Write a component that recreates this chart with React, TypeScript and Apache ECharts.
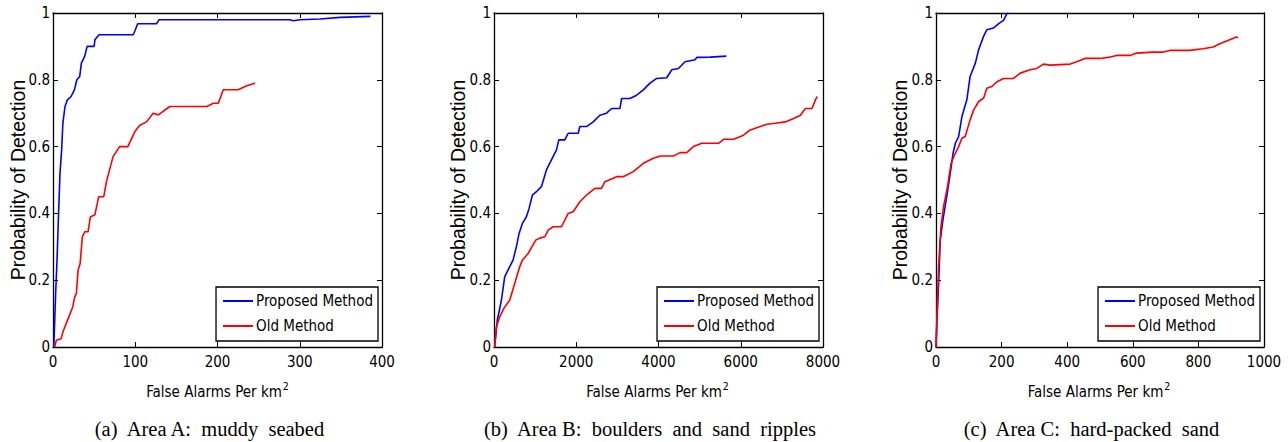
import React, { useEffect, useRef } from "react";
import * as echarts from "echarts";

// ---------- Data ----------
// Panel (a) Area A: muddy seabed
const aPropX = [1, 3.2, 4.9, 6.5, 8.5, 10.5, 12, 14.6, 17.5, 22, 26, 29, 32.5, 34.5, 38.5, 41.5, 50, 51, 56, 97.5, 99.5, 103, 126, 129, 288, 292, 300, 325, 349, 386];
const aPropY = [0, 0.16, 0.26, 0.38, 0.52, 0.59, 0.67, 0.72, 0.74, 0.75, 0.77, 0.8, 0.81, 0.85, 0.87, 0.9, 0.9, 0.92, 0.935, 0.935, 0.946, 0.968, 0.968, 0.98, 0.98, 0.977, 0.98, 0.982, 0.987, 0.99];
const aOldX = [2, 4, 10, 12, 16, 24, 26.4, 28.4, 30.5, 33, 35.7, 38.6, 42.6, 45.5, 50.8, 55.6, 61.7, 65, 73, 81, 91, 99.5, 105.6, 113.7, 121.8, 128, 142, 187, 195, 201, 207, 225, 235.6, 245.7];
const aOldY = [0, 0.02, 0.025, 0.045, 0.07, 0.12, 0.15, 0.16, 0.23, 0.25, 0.33, 0.345, 0.345, 0.39, 0.395, 0.45, 0.45, 0.495, 0.57, 0.6, 0.6, 0.645, 0.664, 0.674, 0.7, 0.695, 0.72, 0.72, 0.73, 0.73, 0.77, 0.77, 0.782, 0.79];

// Panel (b) Area B: boulders and sand ripples
const bPropX = [16, 80, 180, 260, 340, 463, 544, 610, 690, 788, 853, 934, 1032, 1153, 1275, 1397, 1519, 1576, 1722, 1803, 2047, 2088, 2250, 2413, 2575, 2737, 2859, 3062, 3103, 3306, 3468, 3631, 3793, 3956, 4200, 4322, 4484, 4646, 4890, 4931, 5256, 5650];
const bPropY = [0, 0.08, 0.14, 0.21, 0.23, 0.26, 0.3, 0.34, 0.37, 0.39, 0.415, 0.455, 0.465, 0.48, 0.53, 0.56, 0.59, 0.62, 0.62, 0.64, 0.64, 0.66, 0.66, 0.674, 0.694, 0.7, 0.714, 0.714, 0.744, 0.744, 0.754, 0.77, 0.79, 0.804, 0.806, 0.83, 0.834, 0.854, 0.86, 0.867, 0.868, 0.871];
const bOldX = [16, 57, 138, 260, 382, 503, 625, 690, 829, 1015, 1113, 1235, 1316, 1438, 1641, 1803, 1925, 2088, 2250, 2453, 2615, 2697, 2900, 2981, 3143, 3387, 3631, 3875, 4037, 4362, 4525, 4687, 4850, 5053, 5459, 5581, 5824, 6068, 6231, 6475, 6637, 6840, 7084, 7287, 7450, 7571, 7734, 7815, 7860];
const bOldY = [0, 0.06, 0.09, 0.12, 0.14, 0.19, 0.24, 0.26, 0.28, 0.32, 0.326, 0.33, 0.35, 0.36, 0.36, 0.4, 0.405, 0.435, 0.455, 0.475, 0.475, 0.495, 0.505, 0.51, 0.51, 0.525, 0.55, 0.565, 0.572, 0.572, 0.582, 0.582, 0.6, 0.61, 0.61, 0.622, 0.622, 0.634, 0.65, 0.66, 0.667, 0.67, 0.674, 0.684, 0.694, 0.714, 0.714, 0.74, 0.75];

// Panel (c) Area C: hard-packed sand
const cPropX = [0, 3, 8, 13, 21, 31, 42, 52, 59, 69, 79, 94, 104, 120, 130, 145, 155, 175, 191, 206, 216, 221];
const cPropY = [0, 0.08, 0.19, 0.32, 0.38, 0.44, 0.51, 0.58, 0.61, 0.63, 0.69, 0.74, 0.81, 0.85, 0.89, 0.93, 0.95, 0.955, 0.968, 0.978, 0.998, 1.0];
const cOldX = [0, 3, 8, 15, 23, 35, 46, 59, 69, 79, 89, 104, 115, 130, 145, 155, 170, 186, 206, 236, 257, 287, 307, 328, 348, 409, 429, 454, 500, 530, 551, 591, 612, 662, 693, 713, 774, 814, 845, 865, 890, 916, 921];
const cOldY = [0, 0.1, 0.24, 0.36, 0.42, 0.48, 0.55, 0.58, 0.6, 0.625, 0.63, 0.68, 0.71, 0.735, 0.745, 0.775, 0.78, 0.794, 0.804, 0.804, 0.82, 0.83, 0.834, 0.847, 0.844, 0.847, 0.854, 0.864, 0.864, 0.868, 0.873, 0.873, 0.88, 0.883, 0.883, 0.888, 0.888, 0.893, 0.898, 0.908, 0.918, 0.928, 0.926];

const xMaxes = [400, 8000, 1000];
const xIntervals = [100, 2000, 200];
const yTicks = [0, 0.2, 0.4, 0.6, 0.8, 1];
const seriesNames = ["Proposed Method", "Old Method"];
const captions = [
  "(a)  Area A:  muddy  seabed",
  "(b)  Area B:  boulders  and  sand  ripples",
  "(c)  Area C:  hard-packed  sand",
];
const xName = "False Alarms Per km";
const yName = "Probability of Detection";

const panels = [
  { prop: [aPropX, aPropY], old: [aOldX, aOldY] },
  { prop: [bPropX, bPropY], old: [bOldX, bOldY] },
  { prop: [cPropX, cPropY], old: [cOldX, cOldY] },
];

// ---------- Layout ----------
const grids = [
  { left: 53, top: 13, width: 329, height: 334 },
  { left: 494, top: 13, width: 329, height: 334 },
  { left: 936, top: 13, width: 328, height: 334 },
];
const yNameX = [17.5, 458, 899.5];
const xNameX = [217.5, 657.5, 1099];
const captionX = [209.5, 650, 1091.5];

const NARROW = "'Liberation Sans Narrow', 'Arial Narrow', 'DejaVu Sans Condensed', 'Liberation Sans', sans-serif";
const SERIF = "'Liberation Serif', 'Times New Roman', serif";

const zip = (xs: number[], ys: number[]) => xs.map((x, i) => [x, ys[i]]);

export default function App() {
  const ref = useRef<HTMLDivElement>(null);
  useEffect(() => {
    if (!ref.current) return;
    const chart = echarts.init(ref.current, undefined, { renderer: "svg" });

    const xAxis: any[] = [];
    const yAxis: any[] = [];
    const series: any[] = [];
    const legend: any[] = [];
    const graphic: any[] = [];

    grids.forEach((g, i) => {
      const tick = { show: true, inside: true, length: 5, lineStyle: { color: "#000", width: 1 } };
      xAxis.push({
        type: "value", gridIndex: i, min: 0, max: xMaxes[i], interval: xIntervals[i], position: "bottom",
        axisLine: { show: true, onZero: false, lineStyle: { color: "#000", width: 1.3 } },
        axisTick: tick, splitLine: { show: false },
        axisLabel: { color: "#000", fontFamily: NARROW, fontSize: 15, margin: 7, formatter: (v: number) => String(v) },
      });
      xAxis.push({
        type: "value", gridIndex: i, min: 0, max: xMaxes[i], interval: xIntervals[i], position: "top",
        axisLine: { show: true, onZero: false, lineStyle: { color: "#000", width: 1.3 } },
        axisTick: tick, splitLine: { show: false }, axisLabel: { show: false },
      });
      yAxis.push({
        type: "value", gridIndex: i, min: 0, max: 1, interval: 0.2, position: "left",
        axisLine: { show: true, onZero: false, lineStyle: { color: "#000", width: 1.3 } },
        axisTick: tick, splitLine: { show: false },
        axisLabel: {
          color: "#000", fontFamily: NARROW, fontSize: 15, margin: 3,
          formatter: (v: number) => String(yTicks.reduce((a, b) => (Math.abs(b - v) < Math.abs(a - v) ? b : a))),
        },
      });
      yAxis.push({
        type: "value", gridIndex: i, min: 0, max: 1, interval: 0.2, position: "right",
        axisLine: { show: true, onZero: false, lineStyle: { color: "#000", width: 1.3 } },
        axisTick: tick, splitLine: { show: false }, axisLabel: { show: false },
      });

      const p = panels[i];
      series.push({
        name: seriesNames[0], type: "line", xAxisIndex: 2 * i, yAxisIndex: 2 * i,
        data: zip(p.prop[0], p.prop[1]), symbol: "none", color: "#0000ff",
        lineStyle: { color: "#0000ff", width: 1.6 }, clip: true,
      });
      series.push({
        name: seriesNames[1], type: "line", xAxisIndex: 2 * i, yAxisIndex: 2 * i,
        data: zip(p.old[0], p.old[1]), symbol: "none", color: "#ff0000",
        lineStyle: { color: "#ff0000", width: 1.6 }, clip: true,
      });

      legend.push({
        data: seriesNames, orient: "vertical", right: 1288 - (g.left + g.width) + 4, top: 287,
        padding: [6, 5, 7, 7], itemGap: 9, itemWidth: 30, itemHeight: 2, icon: "rect",
        borderColor: "#000", borderWidth: 1.3, backgroundColor: "#fff", selectedMode: false,
        textStyle: { color: "#000", fontFamily: NARROW, fontSize: 15, padding: [0, 0, 0, -2], lineHeight: 16 },
      });

      graphic.push({
        type: "text", x: yNameX[i], y: g.top + g.height / 2, rotation: Math.PI / 2,
        style: { text: yName, fill: "#000", font: "19.5px 'Liberation Sans', Arial, sans-serif", textAlign: "center", textVerticalAlign: "middle" },
      });
      graphic.push({
        type: "text", x: xNameX[i], y: 392,
        style: {
          text: "{a|" + xName + "}{s|2}", textAlign: "center", textVerticalAlign: "middle",
          rich: {
            a: { fontFamily: NARROW, fontSize: 15, fill: "#000", color: "#000" },
            s: { fontFamily: NARROW, fontSize: 10.5, fill: "#000", color: "#000", padding: [0, 0, 12, 1] },
          },
        },
      });
      graphic.push({
        type: "text", x: captionX[i], y: 429,
        style: { text: captions[i], fill: "#000", font: "20.5px " + SERIF, textAlign: "center", textVerticalAlign: "middle" },
      });
    });

    chart.setOption({
      animation: false,
      backgroundColor: "#fff",
      grid: grids.map((g) => ({ ...g, show: false, containLabel: false })),
      xAxis, yAxis, series, legend, graphic,
    });
    return () => chart.dispose();
  }, []);
  return (
    <div
      ref={ref}
      style={{ position: "absolute", left: 0, top: 0, width: 1288, height: 442, background: "#fff" }}
    />
  );
}
